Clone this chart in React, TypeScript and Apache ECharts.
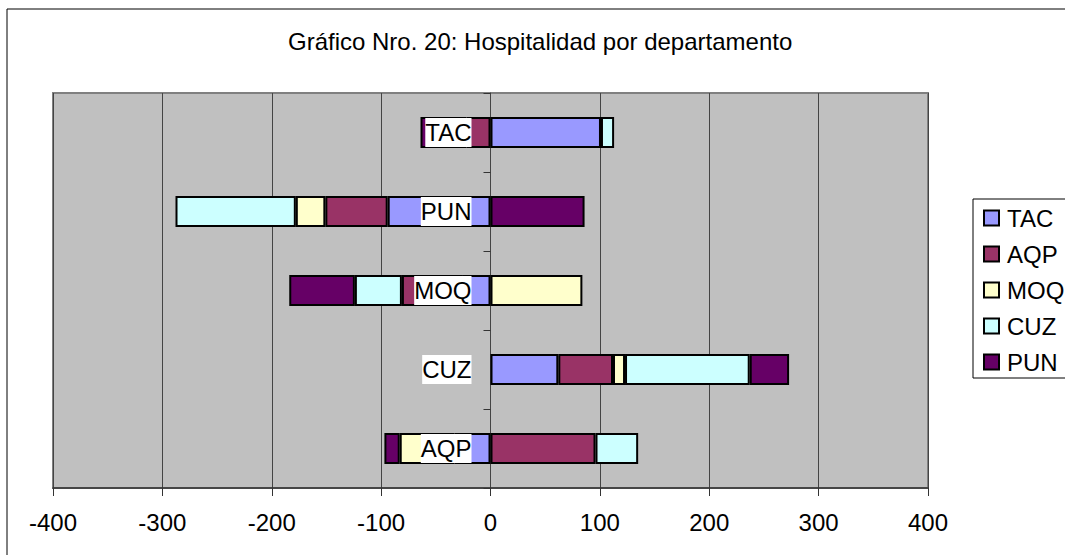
import React, { useEffect, useRef } from 'react';
import * as echarts from 'echarts';

const titleText = 'Gráfico Nro. 20: Hospitalidad por departamento';
const categories = ['AQP', 'CUZ', 'MOQ', 'PUN', 'TAC'];
const seriesNames = ['TAC', 'AQP', 'MOQ', 'CUZ', 'PUN'];
const tacValues = [-33, 62, -26, -94, 101];
const aqpValues = [96, 50, -55, -57, -22];
const moqValues = [-50, 11, 84, -27, null];
const cuzValues = [39, 114, -43, -110, 12];
const punValues = [-14, 36, -60, 86, -42];
const seriesColors = ['#9999FF', '#993366', '#FFFFCC', '#CCFFFF', '#660066'];
const xMin = -400;
const xMax = 400;
const xInterval = 100;

const FONT = '"Liberation Sans", Arial, Helvetica, sans-serif';

export default function App() {
  const ref = useRef<HTMLDivElement>(null);
  useEffect(() => {
    if (!ref.current) return;
    const chart = echarts.init(ref.current, null, { renderer: 'svg' });
    const values = [tacValues, aqpValues, moqValues, cuzValues, punValues];
    const barSeries = seriesNames.map((name, i) => ({
      name,
      type: 'bar',
      stack: 'total',
      barWidth: 31,
      z: 2,
      data: values[i],
      itemStyle: { color: seriesColors[i], borderColor: '#000', borderWidth: 2 },
    }));
    chart.setOption({
      animation: false,
      backgroundColor: '#ffffff',
      textStyle: { fontFamily: FONT },
      title: {
        text: titleText,
        left: 288,
        top: 29,
        padding: 0,
        textStyle: { fontFamily: FONT, fontSize: 24, fontWeight: 'normal', color: '#000' },
      },
      graphic: [
        {
          type: 'rect',
          z: -10,
          shape: { x: 7, y: 9, width: 1100, height: 600 },
          style: { fill: 'none', stroke: '#000', lineWidth: 1 },
        },
      ],
      legend: {
        orient: 'vertical',
        left: 973,
        top: 199,
        padding: [7, 30, 4, 10],
        itemGap: 12,
        itemWidth: 15,
        itemHeight: 15,
        borderColor: '#000',
        borderWidth: 1,
        backgroundColor: '#fff',
        icon: 'rect',
        data: seriesNames,
        textStyle: { fontFamily: FONT, fontSize: 24, color: '#000', padding: [0, 0, 0, 3] },
      },
      grid: {
        left: 53,
        top: 93,
        width: 875,
        height: 395,
        outerBoundsMode: 'none',
        containLabel: false,
        show: true,
        backgroundColor: '#C0C0C0',
        borderColor: '#808080',
        borderWidth: 2,
      },
      xAxis: {
        type: 'value',
        min: xMin,
        max: xMax,
        interval: xInterval,
        axisLine: { show: true, onZero: false, lineStyle: { color: '#333', width: 1.5 } },
        axisTick: { show: true, length: 8, lineStyle: { color: '#333' } },
        axisLabel: { fontFamily: FONT, fontSize: 24, color: '#000', margin: 22 },
        splitLine: { show: true, lineStyle: { color: '#444', width: 1 } },
      },
      yAxis: {
        type: 'category',
        data: categories,
        axisLine: { show: true, onZero: true, lineStyle: { color: '#444', width: 1 } },
        axisTick: { show: true, length: 7, lineStyle: { color: '#333' } },
        axisLabel: { show: false },
        splitLine: { show: false },
      },
      series: [
        ...barSeries,
        {
          name: 'categoryLabels',
          type: 'scatter',
          z: 5,
          symbolSize: 0,
          silent: true,
          itemStyle: { opacity: 1 },
          emphasis: { disabled: true },
          data: categories.map((c) => [0, c]),
          label: {
            show: true,
            position: 'left',
            distance: 19,
            formatter: (p: any) => p.value[1],
            fontFamily: FONT,
            fontSize: 24,
            color: '#000',
            opacity: 1,
            backgroundColor: '#ffffff',
            lineHeight: 29,
            padding: 0,
          },
        },
      ],
    });
    return () => chart.dispose();
  }, []);
  return (
    <div
      ref={ref}
      style={{ position: 'absolute', left: 0, top: 0, width: 1065, height: 555 }}
    />
  );
}
